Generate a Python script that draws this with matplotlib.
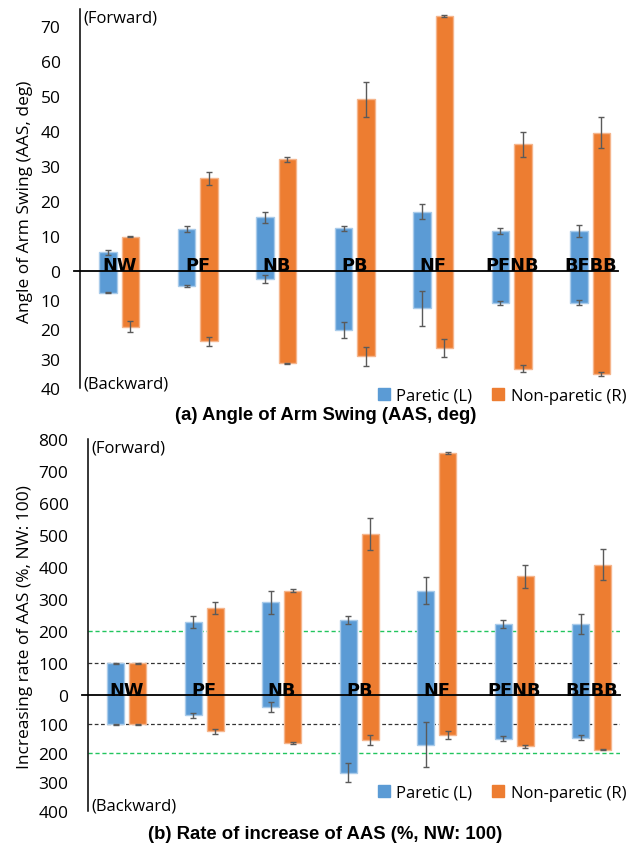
import matplotlib
matplotlib.use('Agg')
import matplotlib.pyplot as plt
import numpy as np
from matplotlib.ticker import FixedLocator, FuncFormatter
from matplotlib.patches import Patch

# walking conditions
categories = ['NW', 'PF', 'NB', 'PB', 'NF', 'PFNB', 'BFBB']

# (a) angle of arm swing [deg], forward (+) and backward (shown below 0)
a_par_fwd     = [5.3, 11.9, 15.3, 12.2, 17.0, 11.5, 11.5]
a_par_fwd_err = [0.7, 0.9, 1.7, 0.7, 2.2, 0.8, 1.7]
a_par_bwd     = [7.4, 5.1, 2.8, 20.1, 12.7, 11.0, 10.8]
a_par_bwd_err = [0.3, 0.3, 1.3, 2.7, 6.0, 0.8, 0.7]
a_non_fwd     = [9.8, 26.5, 31.9, 49.1, 73.0, 36.3, 39.6]
a_non_fwd_err = [0.2, 1.8, 0.7, 4.9, 0.2, 3.6, 4.5]
a_non_bwd     = [19.0, 24.1, 31.5, 29.2, 26.4, 33.4, 35.3]
a_non_bwd_err = [1.8, 1.5, 0.2, 3.3, 3.0, 1.2, 0.7]

# (b) rate of increase of AAS [%], NW = 100
b_par_fwd     = [100, 229, 291, 234, 327, 223, 223]
b_par_fwd_err = [2, 19, 36, 12, 41, 13, 32]
b_par_bwd     = [100, 70, 40, 269, 172, 151, 147]
b_par_bwd_err = [2, 7, 17, 33, 78, 9, 9]
b_non_fwd     = [100, 272, 327, 504, 755, 372, 408]
b_non_fwd_err = [2, 19, 6, 49, 3, 36, 48]
b_non_bwd     = [100, 125, 165, 154, 139, 177, 188]
b_non_bwd_err = [2, 9, 3, 17, 14, 5, 3]

a_ticks = [70, 60, 50, 40, 30, 20, 10, 0, -10, -20, -30, -40]
b_ticks = [800, 700, 600, 500, 400, 300, 200, 100, 0, -100, -200, -300, -400]
b_green = [200, -200]
b_black = [100, -100]

BLUE, ORANGE = '#5B9BD5', '#ED7D31'
BLUE_E, ORANGE_E = '#A9CBEA', '#F5B58C'
ERR = '#5A5A5A'
TFONT = ['Open Sans', 'DejaVu Sans']


def squeeze(k):
    # the backward half of the axis is drawn a bit tighter than the forward half
    fwd = lambda y: np.where(y >= 0, y, y * k)
    inv = lambda y: np.where(y >= 0, y, y / k)
    return fwd, inv


def panel(ax, pf, pfe, pb, pbe, nf, nfe, nb, nbe, ticks, ylim, xr, k, ylabel, lab_xy):
    x = np.arange(len(categories))
    w = 0.22
    for off, f, fe, b, be, c, ec in [(-0.143, pf, pfe, pb, pbe, BLUE, BLUE_E),
                                     (0.143, nf, nfe, nb, nbe, ORANGE, ORANGE_E)]:
        f, b = np.array(f), np.array(b)
        ax.bar(x + off, f + b, bottom=-b, width=w, color=c, edgecolor=ec, lw=1, zorder=3)
        ax.errorbar(x + off, f, yerr=fe, fmt='none', ecolor=ERR, elinewidth=1, capsize=2.5,
                    capthick=1, zorder=4)
        ax.errorbar(x + off, -b, yerr=be, fmt='none', ecolor=ERR, elinewidth=1, capsize=2.5,
                    capthick=1, zorder=4)
    for i, c in enumerate(categories):
        ax.annotate(c, xy=(i, 0), xytext=(0, 4), textcoords='offset points', ha='center',
                    va='center', fontsize=12.8, fontweight='bold', family='DejaVu Sans', zorder=6)
    ax.plot([-0.011, 1], [0, 0], color='black', lw=1.3, transform=ax.get_yaxis_transform(),
            clip_on=False, zorder=5)
    ax.set_yscale('function', functions=squeeze(k))
    ax.set_ylim(*ylim)
    ax.set_xlim(-0.5, xr)
    ax.yaxis.set_major_locator(FixedLocator(ticks))
    ax.yaxis.set_major_formatter(FuncFormatter(lambda v, p: f'{abs(v):.0f}'))
    ax.yaxis.set_minor_locator(FixedLocator([]))
    ax.set_xticks([])
    ax.tick_params(axis='y', length=0, pad=14, labelsize=12.5)
    for t in ax.get_yticklabels():
        t.set_family(TFONT)
    for s in ['top', 'right', 'bottom']:
        ax.spines[s].set_visible(False)
    ax.spines['left'].set_linewidth(1.1)
    ax.set_ylabel(ylabel, fontsize=12.5, family=TFONT)
    ax.yaxis.set_label_coords(*lab_xy)
    ax.text(0.007, 0.978, '(Forward)', transform=ax.transAxes, va='center', fontsize=12,
            family=TFONT)
    ax.text(0.007, 0.013, '(Backward)', transform=ax.transAxes, va='center', fontsize=12,
            family=TFONT)


fig = plt.figure(figsize=(6.29, 8.45), dpi=100)
ax1 = fig.add_axes([80 / 629, 1 - 389 / 845, 538 / 629, 379 / 845])
ax2 = fig.add_axes([88 / 629, 1 - 811.7 / 845, 532 / 629, 371.7 / 845])

panel(ax1, a_par_fwd, a_par_fwd_err, a_par_bwd, a_par_bwd_err,
      a_non_fwd, a_non_fwd_err, a_non_bwd, a_non_bwd_err,
      a_ticks, (-40, 75), 6.354, 0.8385, 'Angle of Arm Swing (AAS, deg)', (-0.088, 0.495))
panel(ax2, b_par_fwd, b_par_fwd_err, b_par_bwd, b_par_bwd_err,
      b_non_fwd, b_non_fwd_err, b_non_bwd, b_non_bwd_err,
      b_ticks, (-400, 800), 6.365, 0.9006, 'Increasing rate of AAS (%, NW: 100)', (-0.103, 0.497))

for v in b_green:
    ax2.axhline(v, color='#22C55E', ls=(0, (3, 2)), lw=1, zorder=1)
for v in b_black:
    ax2.axhline(v, color='#333333', ls=(0, (3, 2)), lw=0.9, zorder=1)

handles = [Patch(color=BLUE, label='Paretic (L)'), Patch(color=ORANGE, label='Non-paretic (R)')]
for yc in [1 - 397 / 845, 1 - 794 / 845]:
    fig.legend(handles=handles, loc='center', bbox_to_anchor=(502 / 629, yc), ncol=2,
               frameon=False, handlelength=0.7, handleheight=0.7, handletextpad=0.4,
               columnspacing=1.2, prop={'family': TFONT, 'size': 12})

fig.text(326 / 629, 1 - 416 / 845, '(a) Angle of Arm Swing (AAS, deg)', ha='center',
         va='center', fontsize=13.3, fontweight='bold', family='Liberation Sans')
fig.text(325 / 629, 1 - 835 / 845, '(b) Rate of increase of AAS (%, NW: 100)', ha='center',
         va='center', fontsize=13.3, fontweight='bold', family='Liberation Sans')

fig.savefig('out.png', dpi=100)
